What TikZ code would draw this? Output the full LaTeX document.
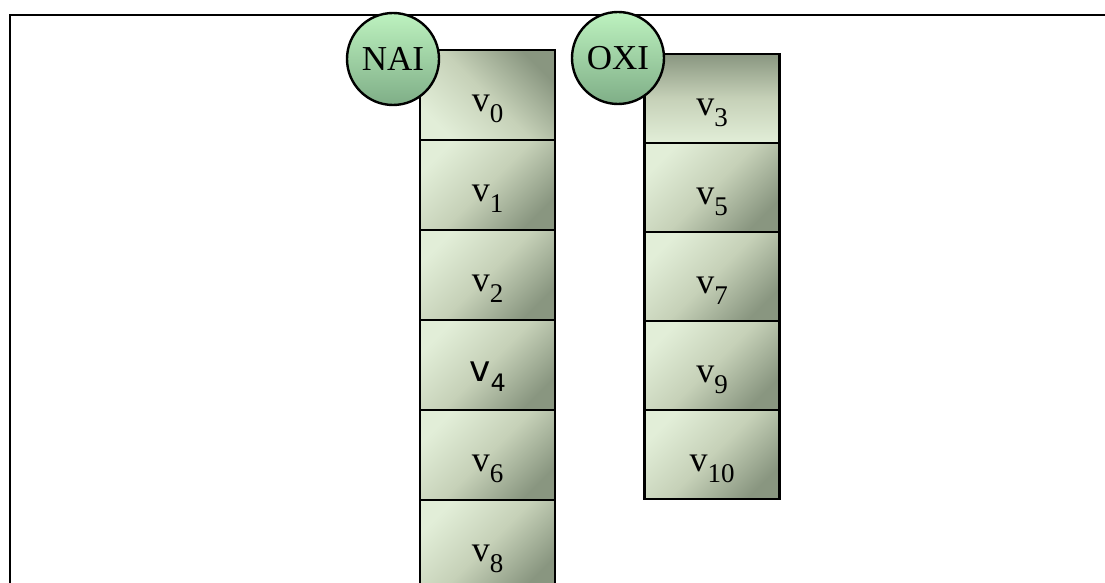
\documentclass[tikz,border=0pt]{standalone}
\usepackage{fontspec}
\setmainfont{Liberation Serif}
\newfontfamily\sansv{DejaVu Sans}
\tikzset{
  cell/.style={draw=black, line width=2.4pt, minimum width=135pt, minimum height=90pt,
    inner sep=0pt, text height=34pt, text depth=0pt, shading=axis, top color=cellLight, bottom color=cellDark, middle color=cellMid,
    shading angle=45, font=\fontsize{36}{40}\selectfont},
  cellup/.style={cell, shading angle=135},
  cellv/.style={cell, top color=cellDark, bottom color=cellLight, middle color=cellMid, shading angle=0},
  tag/.style={circle, draw=black, line width=2.4pt, minimum size=92pt, inner sep=0pt,
    shading=axis, top color=circLight, bottom color=circDark, font=\fontsize{35}{40}\selectfont},
  frame/.style={line width=2.6pt, black}
}
\definecolor{cellLight}{HTML}{E2EED8}
\definecolor{cellMid}{HTML}{C6D1B8}
\definecolor{cellDark}{HTML}{899680}
\definecolor{circLight}{HTML}{BDF2BF}
\definecolor{circDark}{HTML}{7FAE87}
\newcommand{\vsub}[1]{v\raisebox{-11pt}[0pt][0pt]{\fontsize{27}{30}\selectfont #1}}
\begin{document}
\begin{tikzpicture}[x=1pt,y=1pt]
\useasboundingbox (0,0) rectangle (1105,583);
\clip (0,0) rectangle (1105,583);
% frame
\coordinate (fa) at (10,0);
\coordinate (fb) at (10,568);
\coordinate (fc) at (1105,568);
\draw[frame] (fa) -- (fb) -- (fc);
% left column
\node[cellup] (c0) at (487.5,488) {\vsub{0}};
\node[cell]   (c1) at (487.5,398) {\vsub{1}};
\node[cell]   (c2) at (487.5,308) {\vsub{2}};
\node[cell]   (c4) at (487.5,218) {\sansv v\raisebox{-10pt}[0pt][0pt]{\fontsize{24}{28}\selectfont 4}};
\node[cell]   (c6) at (487.5,128) {\vsub{6}};
\node[cell]   (c8) at (487.5,38)  {\vsub{8}};
% right column
\node[cellv, minimum height=89pt] (c3)  at (712,484.5) {\vsub{3}};
\node[cell, minimum height=89pt]  (c5)  at (712,395.5) {\vsub{5}};
\node[cell, minimum height=89pt]  (c7)  at (712,306.5) {\vsub{7}};
\node[cell, minimum height=89pt]  (c9)  at (712,217.5) {\vsub{9}};
\node[cell, minimum height=89pt]  (c10) at (712,128.5) {\vsub{10}};
% tags
\node[tag] (nai) at (393,524) {NAI};
\node[tag] (oxi) at (618,525) {OXI};
\end{tikzpicture}
\end{document}
